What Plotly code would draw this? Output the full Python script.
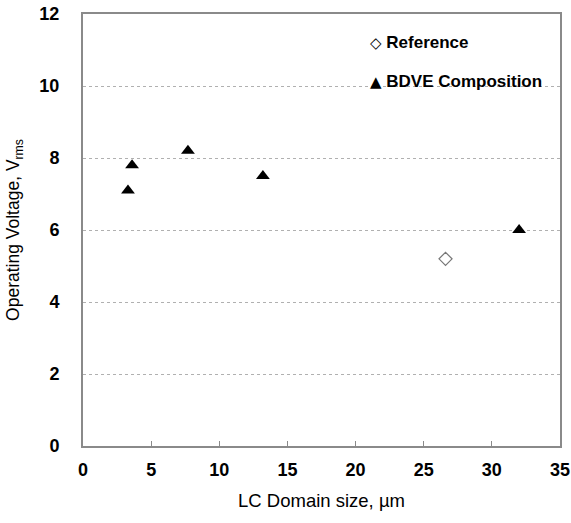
import plotly.graph_objects as go

bdve_x = [3.3, 3.6, 7.7, 13.2, 32.0]
bdve_y = [7.1, 7.8, 8.2, 7.5, 6.0]
ref_x = [26.6]
ref_y = [5.2]
x_ticks = [0, 5, 10, 15, 20, 25, 30, 35]
y_ticks = [0, 2, 4, 6, 8, 10, 12]
legend_labels = ["Reference", "BDVE Composition"]

FONT = "Liberation Sans, Arial, sans-serif"

fig = go.Figure()
fig.add_trace(go.Scatter(
    x=ref_x, y=ref_y, mode="markers", name=legend_labels[0], showlegend=False,
    marker=dict(symbol="diamond-open", size=10, color="#777777", line=dict(width=1.2, color="#777777")),
))
fig.add_trace(go.Scatter(
    x=bdve_x, y=bdve_y, mode="markers", name=legend_labels[1], showlegend=False,
    marker=dict(symbol="triangle-up", size=12, color="black"),
))

# legend drawn as annotations (tight symbol-to-text spacing like the reference)
fig.add_annotation(xref="paper", yref="paper", x=0.598, y=0.934, xanchor="left", yanchor="middle",
                   text="<span style='font-family:DejaVu Sans;font-size:15px'>◇ </span><b>" + legend_labels[0] + "</b>",
                   showarrow=False, font=dict(size=17, color="black"))
fig.add_annotation(xref="paper", yref="paper", x=0.598, y=0.844, xanchor="left", yanchor="middle",
                   text="<span style='font-family:DejaVu Sans;font-size:15px'>▲ </span><b>" + legend_labels[1] + "</b>",
                   showarrow=False, font=dict(size=17, color="black"))

fig.update_layout(
    width=571, height=523,
    margin=dict(l=83, r=11, t=14, b=77),
    paper_bgcolor="white", plot_bgcolor="white",
    font=dict(family=FONT, size=17, color="black"),
    showlegend=False,
    xaxis=dict(
        range=[0, 35], tickvals=x_ticks, ticktext=[f"<b>{v}</b>" for v in x_ticks],
        tickfont=dict(size=18), automargin=False, ticklabelstandoff=6,
        showline=True, mirror=True, linecolor="#8a8a8a", linewidth=2,
        ticks="inside", ticklen=5, tickcolor="#8a8a8a", tickwidth=1,
        showgrid=False, zeroline=False,
        title=dict(text="LC Domain size, µm", font=dict(size=18.5)),
    ),
    yaxis=dict(
        range=[0, 12], tickvals=y_ticks, ticktext=[f"<b>{v}</b>" for v in y_ticks],
        tickfont=dict(size=18), automargin=False,
        showline=True, mirror=True, linecolor="#8a8a8a", linewidth=2,
        ticks="", showgrid=True, gridcolor="#b0b0b0", griddash="dot", gridwidth=1,
        zeroline=False, ticklabelstandoff=18,
        title=dict(text="Operating Voltage, V<sub>rms</sub>", font=dict(size=17.5)),
    ),
)

fig.write_html("out.html")
